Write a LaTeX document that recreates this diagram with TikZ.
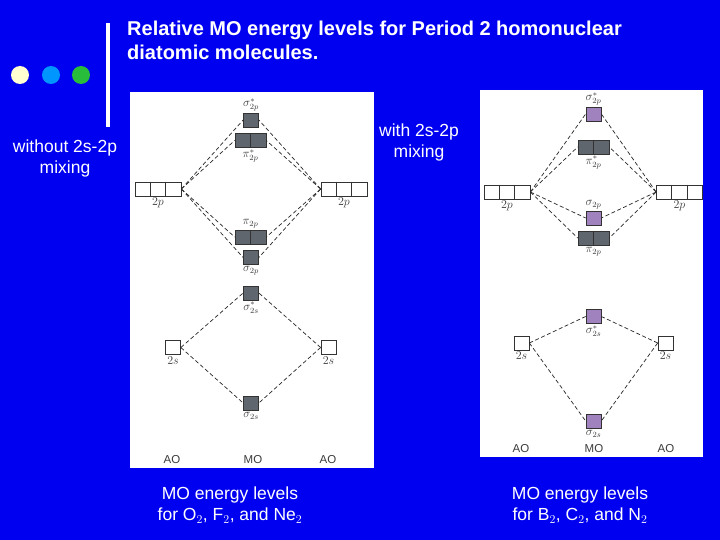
\documentclass[tikz,border=0pt]{standalone}
\usepackage{fontspec}
\setmainfont{Liberation Sans}
\usetikzlibrary{calc}
\definecolor{bg}{RGB}{0,0,240}
\definecolor{mogray}{RGB}{95,102,110}
\definecolor{mopurple}{RGB}{160,130,190}
\definecolor{dot1}{RGB}{255,255,210}
\definecolor{dot2}{RGB}{0,150,255}
\definecolor{dot3}{RGB}{40,190,60}
\definecolor{lbl}{RGB}{60,60,60}
\begin{document}
\begin{tikzpicture}[x=1pt,y=-1pt,
  orb/.style={draw=black!80,line width=0.7pt,minimum width=15pt,minimum height=14pt,inner sep=0pt},
  orbtwo/.style={orb,minimum width=31pt},
  orbthree/.style={orb,minimum width=46pt},
  gr/.style={fill=mogray},
  pu/.style={fill=mopurple},
  wh/.style={fill=white},
  lab/.style={font=\fontsize{11.5}{13}\selectfont,text=lbl,inner sep=1.5pt},
  conn/.style={black!85,line width=0.7pt,dash pattern=on 4pt off 2.5pt},
  ttl/.style={text=white,font=\bfseries\fontsize{20}{24}\selectfont,align=left},
  txt/.style={text=white,font=\fontsize{17.5}{21}\selectfont,align=center}]
\fill[bg] (0,0) rectangle (720,540);
\useasboundingbox (0,0) rectangle (720,540);
\fill[dot1] (20,75) circle (9);
\fill[dot2] (51,75) circle (9);
\fill[dot3] (81,75) circle (9);
\fill[white] (106,23) rectangle (110,127);
\node[ttl,anchor=north west,inner sep=0pt] (title) at (127,21) {Relative MO energy levels for Period 2 homonuclear\\diatomic molecules.};
\node[txt] (without) at (65,158) {without 2s-2p\\mixing};
\node[txt] (with) at (419,142) {with 2s-2p\\mixing};
\node[txt] (capL) at (230,505) {MO energy levels\\for O$_2$, F$_2$, and Ne$_2$};
\node[txt] (capR) at (580,505) {MO energy levels\\for B$_2$, C$_2$, and N$_2$};
% left panel
\fill[white] (130,92) rectangle (374,468);
\node[orb,gr] (Ls2ps) at (251,120) {};
\node[orbtwo,gr] (Lp2ps) at (250.5,140.5) {};
\node[orbthree,wh] (L2pl) at (158,189) {};
\node[orbthree,wh] (L2pr) at (344,189) {};
\node[orbtwo,gr] (Lp2p) at (250.5,237) {};
\node[orb,gr] (Ls2p) at (251,257.5) {};
\node[orb,gr] (Ls2ss) at (251,293) {};
\node[orb,wh] (L2sl) at (173,347.5) {};
\node[orb,wh] (L2sr) at (328.5,347.5) {};
\node[orb,gr] (Ls2s) at (251,403) {};
\foreach \n in {Lp2ps,Lp2p} \draw[black!80,line width=0.6pt] (\n.north) -- (\n.south);
\foreach \n in {L2pl,L2pr} {
  \draw[black!80,line width=0.6pt] ($(\n.north west)!1/3!(\n.north east)$) -- ($(\n.south west)!1/3!(\n.south east)$);
  \draw[black!80,line width=0.6pt] ($(\n.north west)!2/3!(\n.north east)$) -- ($(\n.south west)!2/3!(\n.south east)$);}
\node[lab,anchor=south] (tLs2ps) at (Ls2ps.north) {$\sigma^*_{2p}$};
\node[lab,anchor=north] (tLp2ps) at (Lp2ps.south) {$\pi^*_{2p}$};
\node[lab,anchor=south] (tLp2p) at (Lp2p.north) {$\pi_{2p}$};
\node[lab,anchor=north] (tLs2p) at (Ls2p.south) {$\sigma_{2p}$};
\node[lab,anchor=north] (tLs2ss) at (Ls2ss.south) {$\sigma^*_{2s}$};
\node[lab,anchor=north] (tLs2s) at (Ls2s.south) {$\sigma_{2s}$};
\node[lab,anchor=north] (tL2pl) at (L2pl.south) {$2p$};
\node[lab,anchor=north] (tL2pr) at (L2pr.south) {$2p$};
\node[lab,anchor=north] (tL2sl) at (L2sl.south) {$2s$};
\node[lab,anchor=north] (tL2sr) at (L2sr.south) {$2s$};
\node[lab] (LAO1) at (172,460) {AO};
\node[lab] (LMO) at (253,460) {MO};
\node[lab] (LAO2) at (328,460) {AO};
\foreach \m in {Ls2ps,Lp2ps,Lp2p,Ls2p} {
  \draw[conn] (L2pl.east) -- (\m.west);
  \draw[conn] (L2pr.west) -- (\m.east);}
\foreach \m in {Ls2ss,Ls2s} {
  \draw[conn] (L2sl.east) -- (\m.west);
  \draw[conn] (L2sr.west) -- (\m.east);}
% right panel
\fill[white] (480,90) rectangle (703,457);
\node[orb,pu] (Rs2ps) at (593.5,114) {};
\node[orbtwo,gr] (Rp2ps) at (593.5,147) {};
\node[orbthree,wh] (R2pl) at (507,192) {};
\node[orbthree,wh] (R2pr) at (679.5,192) {};
\node[orb,pu] (Rs2p) at (593.5,218) {};
\node[orbtwo,gr] (Rp2p) at (593.5,238) {};
\node[orb,pu] (Rs2ss) at (593.5,316.5) {};
\node[orb,wh] (R2sl) at (521.5,343) {};
\node[orb,wh] (R2sr) at (665.5,343) {};
\node[orb,pu] (Rs2s) at (593.5,421) {};
\foreach \n in {Rp2ps,Rp2p} \draw[black!80,line width=0.6pt] (\n.north) -- (\n.south);
\foreach \n in {R2pl,R2pr} {
  \draw[black!80,line width=0.6pt] ($(\n.north west)!1/3!(\n.north east)$) -- ($(\n.south west)!1/3!(\n.south east)$);
  \draw[black!80,line width=0.6pt] ($(\n.north west)!2/3!(\n.north east)$) -- ($(\n.south west)!2/3!(\n.south east)$);}
\node[lab,anchor=south] (tRs2ps) at (Rs2ps.north) {$\sigma^*_{2p}$};
\node[lab,anchor=north] (tRp2ps) at (Rp2ps.south) {$\pi^*_{2p}$};
\node[lab,anchor=south] (tRs2p) at (Rs2p.north) {$\sigma_{2p}$};
\node[lab,anchor=north] (tRp2p) at (Rp2p.south) {$\pi_{2p}$};
\node[lab,anchor=north] (tRs2ss) at (Rs2ss.south) {$\sigma^*_{2s}$};
\node[lab,anchor=north] (tRs2s) at (Rs2s.south) {$\sigma_{2s}$};
\node[lab,anchor=north] (tR2pl) at (R2pl.south) {$2p$};
\node[lab,anchor=north] (tR2pr) at (R2pr.south) {$2p$};
\node[lab,anchor=north] (tR2sl) at (R2sl.south) {$2s$};
\node[lab,anchor=north] (tR2sr) at (R2sr.south) {$2s$};
\node[lab] (RAO1) at (521,449) {AO};
\node[lab] (RMO) at (594,449) {MO};
\node[lab] (RAO2) at (666,449) {AO};
\foreach \m in {Rs2ps,Rp2ps,Rs2p,Rp2p} {
  \draw[conn] (R2pl.east) -- (\m.west);
  \draw[conn] (R2pr.west) -- (\m.east);}
\foreach \m in {Rs2ss,Rs2s} {
  \draw[conn] (R2sl.east) -- (\m.west);
  \draw[conn] (R2sr.west) -- (\m.east);}
\end{tikzpicture}
\end{document}
